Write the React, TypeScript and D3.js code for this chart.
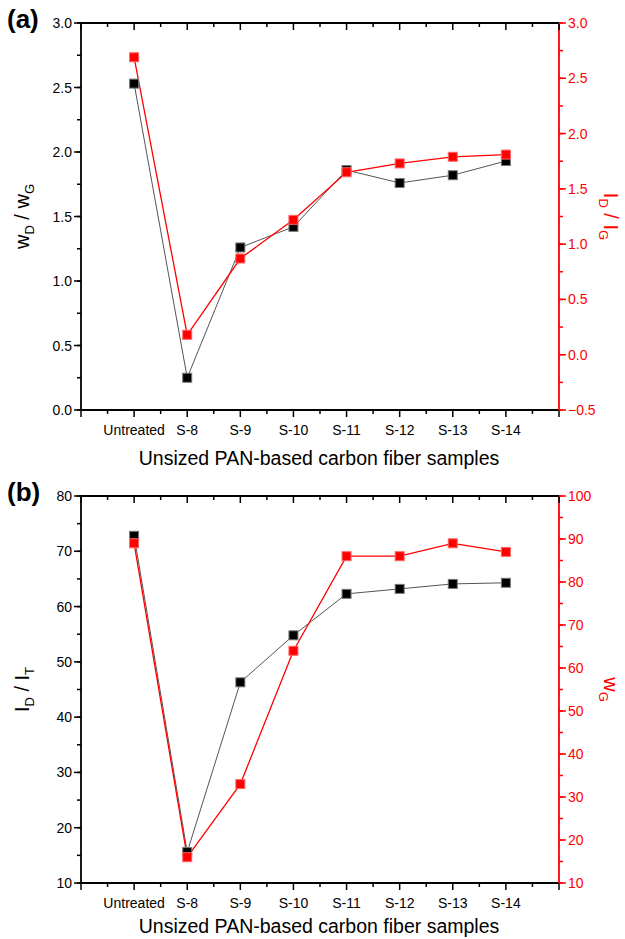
import React from "react";
import * as d3 from "d3";

const categories = ["Untreated", "S-8", "S-9", "S-10", "S-11", "S-12", "S-13", "S-14"];
const wDwG = [2.53, 0.25, 1.26, 1.42, 1.86, 1.76, 1.82, 1.93];
const IDIG = [2.69, 0.18, 0.87, 1.22, 1.65, 1.73, 1.79, 1.81];
const IDIT = [72.8, 15.6, 46.3, 54.8, 62.3, 63.2, 64.1, 64.3];
const wG = [89, 16, 33, 64, 86, 86, 89, 87];

const leftTicksA = [0, 0.5, 1.0, 1.5, 2.0, 2.5, 3.0];
const rightTicksA = [-0.5, 0, 0.5, 1.0, 1.5, 2.0, 2.5, 3.0];
const leftTicksB = [10, 20, 30, 40, 50, 60, 70, 80];
const rightTicksB = [10, 20, 30, 40, 50, 60, 70, 80, 90, 100];

const FONT = "'Liberation Sans', Arial, sans-serif";
const RED = "#ff0000";

type PanelProps = {
  top: number;
  bottom: number;
  tag: string;
  catOffset: number;
  titleOffset: number;
  leftDomain: [number, number];
  rightDomain: [number, number];
  leftTicks: number[];
  rightTicks: number[];
  leftMinor: number;
  rightMinor: number;
  leftData: number[];
  rightData: number[];
  leftFmt: (v: number) => string;
  rightFmt: (v: number) => string;
  leftLabel: React.ReactNode;
  rightLabel: React.ReactNode;
};

const X0 = 81;
const X1 = 559;

function Panel(p: PanelProps) {
  const x = d3.scaleLinear().domain([-1, 8]).range([X0, X1]);
  const yL = d3.scaleLinear().domain(p.leftDomain).range([p.bottom, p.top]);
  const yR = d3.scaleLinear().domain(p.rightDomain).range([p.bottom, p.top]);
  const line = d3.line<[number, number]>().x((d) => d[0]).y((d) => d[1]);
  const blackPts: [number, number][] = p.leftData.map((v, i) => [x(i), yL(v)]);
  const redPts: [number, number][] = p.rightData.map((v, i) => [x(i), yR(v)]);

  const xMajor = d3.range(-1, 9, 1);
  const xMinor = d3.range(-0.5, 8, 1);
  const lMinor = d3.range(p.leftDomain[0], p.leftDomain[1] + 1e-9, p.leftMinor);
  const rMinor = d3.range(p.rightDomain[0], p.rightDomain[1] + 1e-9, p.rightMinor);
  const mid = (p.top + p.bottom) / 2;
  const ms = 9;

  return (
    <g>
      <text x={7} y={p.top + 5} fontFamily={FONT} fontWeight="bold" fontSize={26}>{p.tag}</text>
      {/* lines */}
      <path d={line(blackPts) || ""} fill="none" stroke="#555" strokeWidth={1} />
      <path d={line(redPts) || ""} fill="none" stroke={RED} strokeWidth={1.3} />
      {blackPts.map((d, i) => (
        <rect key={"b" + i} x={d[0] - ms / 2} y={d[1] - ms / 2} width={ms} height={ms} fill="#000" stroke="#777" strokeWidth={1} />
      ))}
      {redPts.map((d, i) => (
        <rect key={"r" + i} x={d[0] - ms / 2} y={d[1] - ms / 2} width={ms} height={ms} fill={RED} stroke="#ff6666" strokeWidth={1} />
      ))}
      {/* frame */}
      <line x1={X0} x2={X1} y1={p.top} y2={p.top} stroke="#000" strokeWidth={1.8} />
      <line x1={X0} x2={X1} y1={p.bottom} y2={p.bottom} stroke="#000" strokeWidth={1.8} />
      <line x1={X0} x2={X0} y1={p.top} y2={p.bottom} stroke="#000" strokeWidth={1.8} />
      <line x1={X1} x2={X1} y1={p.top} y2={p.bottom} stroke={RED} strokeWidth={1.8} />
      {/* x ticks */}
      {xMajor.map((v) => (
        <g key={"xm" + v}>
          <line x1={x(v)} x2={x(v)} y1={p.bottom} y2={p.bottom + 7} stroke="#000" strokeWidth={1.5} />
          <line x1={x(v)} x2={x(v)} y1={p.top} y2={p.top + 7} stroke="#000" strokeWidth={1.5} />
        </g>
      ))}
      {xMinor.map((v) => (
        <g key={"xn" + v}>
          <line x1={x(v)} x2={x(v)} y1={p.bottom} y2={p.bottom + 4} stroke="#000" strokeWidth={1.5} />
          <line x1={x(v)} x2={x(v)} y1={p.top} y2={p.top + 4} stroke="#000" strokeWidth={1.5} />
        </g>
      ))}
      {categories.map((c, i) => (
        <text key={c} x={x(i)} y={p.bottom + p.catOffset} textAnchor="middle" fontFamily={FONT} fontSize={14} fill="#000">{c}</text>
      ))}
      {/* left ticks */}
      {lMinor.map((v) => (
        <line key={"lm" + v} x1={X0 - 4} x2={X0} y1={yL(v)} y2={yL(v)} stroke="#000" strokeWidth={1.5} />
      ))}
      {p.leftTicks.map((v) => (
        <g key={"lt" + v}>
          <line x1={X0 - 7} x2={X0} y1={yL(v)} y2={yL(v)} stroke="#000" strokeWidth={1.5} />
          <text x={X0 - 9} y={yL(v) + 5} textAnchor="end" fontFamily={FONT} fontSize={14} fill="#000">{p.leftFmt(v)}</text>
        </g>
      ))}
      {/* right ticks */}
      {rMinor.map((v) => (
        <line key={"rm" + v} x1={X1} x2={X1 + 4} y1={yR(v)} y2={yR(v)} stroke={RED} strokeWidth={1.5} />
      ))}
      {p.rightTicks.map((v) => (
        <g key={"rt" + v}>
          <line x1={X1} x2={X1 + 7} y1={yR(v)} y2={yR(v)} stroke={RED} strokeWidth={1.5} />
          <text x={X1 + 9} y={yR(v) + 5} textAnchor="start" fontFamily={FONT} fontSize={14} fill={RED}>{p.rightFmt(v)}</text>
        </g>
      ))}
      {/* axis titles */}
      <text x={319} y={p.bottom + p.titleOffset} textAnchor="middle" fontFamily={FONT} fontSize={19.5} fill="#000">Unsized PAN-based carbon fiber samples</text>
      <text transform={`translate(29,${mid}) rotate(-90)`} textAnchor="middle" fontFamily={FONT} fontSize={20} fill="#000">{p.leftLabel}</text>
      <text transform={`translate(604,${mid}) rotate(90)`} textAnchor="middle" fontFamily={FONT} fontSize={20} fill={RED}>{p.rightLabel}</text>
    </g>
  );
}

const sub = (s: string) => (
  <tspan fontSize={13} dy={5}>{s}</tspan>
);
const up = (s: string) => <tspan dy={-5}>{s}</tspan>;

export default function App() {
  return (
    <svg width={625} height={939} style={{ position: "absolute", left: 0, top: 0, background: "#fff" }}>
      <rect width={625} height={939} fill="#fff" />
      <Panel
        top={23}
        bottom={410}
        tag="(a)"
        catOffset={25}
        titleOffset={55}
        leftDomain={[0, 3]}
        rightDomain={[-0.5, 3]}
        leftTicks={leftTicksA}
        rightTicks={rightTicksA}
        leftMinor={0.25}
        rightMinor={0.25}
        leftData={wDwG}
        rightData={IDIG}
        leftFmt={d3.format(".1f")}
        rightFmt={d3.format(".1f")}
        leftLabel={<>w{sub("D")}{up(" / w")}{sub("G")}</>}
        rightLabel={<>I{sub("D")}{up(" / I")}{sub("G")}</>}
      />
      <Panel
        top={496}
        bottom={883}
        tag="(b)"
        catOffset={25}
        titleOffset={50}
        leftDomain={[10, 80]}
        rightDomain={[10, 100]}
        leftTicks={leftTicksB}
        rightTicks={rightTicksB}
        leftMinor={5}
        rightMinor={5}
        leftData={IDIT}
        rightData={wG}
        leftFmt={d3.format("d")}
        rightFmt={d3.format("d")}
        leftLabel={<>I{sub("D")}{up(" / I")}{sub("T")}</>}
        rightLabel={<>w{sub("G")}</>}
      />
    </svg>
  );
}
